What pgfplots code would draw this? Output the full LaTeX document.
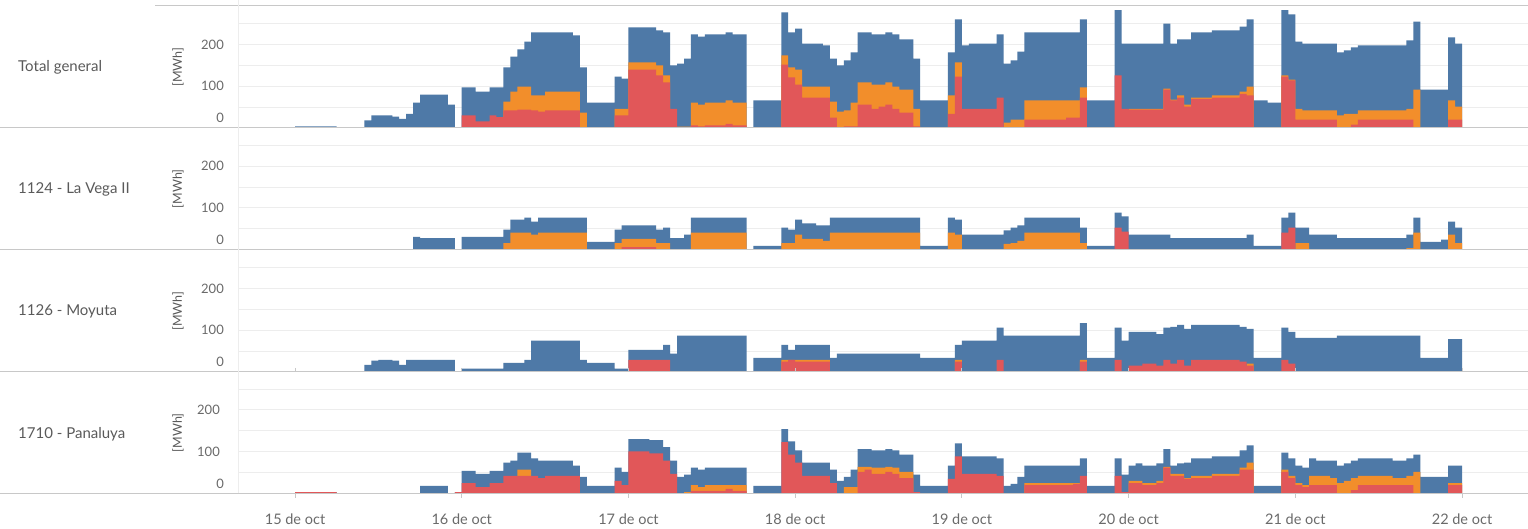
\documentclass[border=0pt]{standalone}
\usepackage{pgfplots}
\pgfplotsset{compat=1.18}
\usepackage{fontspec}
\setmainfont{Lato}
\definecolor{tabblue}{HTML}{4E79A7}
\definecolor{taborange}{HTML}{F28E2B}
\definecolor{tabred}{HTML}{E15759}
\definecolor{gridc}{HTML}{EDEDED}
\definecolor{sepc}{HTML}{C8C8C8}
\definecolor{tickc}{HTML}{6A6A6A}
\definecolor{labc}{HTML}{5A5A5A}
\newcommand{\lbl}{\fontsize{12.5bp}{15bp}\selectfont}
\newcommand{\ytl}{\fontsize{13bp}{15bp}\selectfont}
\newcommand{\xtl}{\fontsize{14.5bp}{17bp}\selectfont}
\newcommand{\rowl}{\fontsize{15bp}{18bp}\selectfont}
\pgfplotsset{
  panel/.style={
    scale only axis, width=1290bp, height=121.5bp, anchor=south west,
    xmin=-8.21, xmax=177.5, ymin=0, ymax=291,
    axis line style={draw=none},
    ytick={50,100,150,200,250}, yticklabels={,100,,200,},
    extra y ticks={24}, extra y tick labels={0},
    extra y tick style={grid=none, major tick length=0pt},
    ymajorgrids, grid style={line width=1bp, color=gridc},
    ytick style={draw=none},
    yticklabel style={anchor=east, inner sep=0pt, xshift=-14bp, font=\ytl, text=tickc},
    ylabel={[MWh]},
    every axis y label/.style={at={(axis description cs:-0.0465,0.5)}, anchor=center, rotate=90, font=\lbl, text=labc},
    xtick=\empty,
    clip=true,
  },
  tot/.style={const plot, fill=tabblue, draw=none},
  ora/.style={const plot, fill=taborange, draw=none},
  red/.style={const plot, fill=tabred, draw=none},
}
\begin{document}
\begin{tikzpicture}
\useasboundingbox (0,0) rectangle (1528bp,529bp);
\fill[white] (0,0) rectangle (1528bp,529bp);

% ---------------- Total general
\begin{axis}[panel, at={(238bp,401bp)}]
\addplot[tot] coordinates {(0,4)(6,0)(10,18)(11,30)(14,27)(15,22)(16,34)(17,61)(18,80)(22,56)(23,2)(24,97)(26,87)(28,97)(30,145)(31,171)(32,188)(33,207)(34,229)(40,222)(41,145)(42,61)(46,123)(47,118)(48,241)(52,234)(53,229)(54,150)(55,154)(56,166)(57,224)(58,219)(59,224)(62,229)(63,224)(65,0)(66,66)(70,277)(71,229)(72,238)(73,202)(76,198)(77,166)(78,150)(79,162)(80,181)(81,229)(83,224)(85,229)(86,224)(87,212)(89,166)(90,66)(94,181)(95,260)(96,198)(97,202)(101,224)(102,154)(103,162)(104,183)(105,229)(113,260)(114,66)(118,282)(119,202)(125,250)(126,202)(127,212)(129,229)(132,234)(136,243)(137,260)(138,66)(140,61)(142,282)(143,272)(144,207)(145,202)(150,181)(151,186)(152,193)(153,198)(160,210)(161,255)(162,92)(166,217)(167,202)(168,0)} \closedcycle;
\addplot[ora] coordinates {(0,0)(30,63)(31,87)(32,99)(34,78)(36,87)(41,37)(42,0)(46,46)(48,157)(52,150)(53,126)(54,0)(55,3)(57,61)(58,56)(59,61)(62,66)(63,61)(65,0)(70,174)(71,145)(72,140)(73,99)(77,63)(78,39)(79,42)(80,61)(81,109)(83,104)(85,109)(86,99)(87,92)(89,46)(90,0)(94,78)(95,157)(96,0)(102,13)(103,20)(105,66)(113,97)(114,0)(120,46)(125,94)(126,68)(127,78)(128,56)(129,73)(132,78)(136,87)(137,99)(138,0)(142,126)(143,116)(144,46)(145,42)(150,30)(151,34)(153,42)(160,46)(161,92)(162,0)(166,66)(167,51)(168,0)} \closedcycle;
\addplot[red] coordinates {(0,0)(24,30)(26,16)(28,30)(29,26)(30,42)(32,44)(34,42)(35,39)(36,42)(41,0)(46,30)(48,140)(52,126)(53,109)(54,46)(55,0)(57,6)(58,4)(59,6)(62,10)(63,6)(65,0)(70,152)(71,121)(72,104)(73,73)(77,25)(78,0)(79,4)(81,56)(83,46)(84,51)(85,56)(86,46)(87,37)(89,4)(90,0)(94,34)(95,123)(96,46)(101,73)(102,0)(105,20)(111,25)(113,73)(114,0)(118,126)(119,46)(120,44)(125,92)(126,66)(127,73)(128,51)(129,70)(132,73)(136,82)(137,78)(138,0)(142,123)(143,114)(144,20)(150,0)(152,8)(153,20)(161,0)(166,20)(168,0)} \closedcycle;
\end{axis}

% ---------------- 1124 - La Vega II
\begin{axis}[panel, at={(238bp,279.3bp)}]
\addplot[tot] coordinates {(0,0)(17,31)(18,28)(23,0)(24,31)(30,48)(31,72)(33,77)(34,67)(35,77)(42,19)(46,48)(47,58)(52,48)(53,53)(54,28)(56,36)(57,77)(65,0)(66,9)(70,53)(71,48)(72,72)(73,63)(75,58)(77,77)(90,9)(94,77)(95,72)(96,36)(102,46)(103,53)(104,58)(105,77)(113,53)(114,9)(118,89)(119,80)(120,36)(126,28)(137,36)(138,9)(142,77)(143,89)(144,53)(146,36)(150,28)(160,36)(161,77)(162,19)(165,24)(166,67)(167,53)(168,0)} \closedcycle;
\addplot[ora] coordinates {(0,0)(30,16)(31,41)(34,36)(35,41)(42,0)(46,16)(47,26)(52,16)(54,0)(57,41)(65,0)(70,16)(72,36)(73,26)(76,21)(77,41)(90,0)(94,41)(95,36)(96,0)(102,14)(103,16)(104,21)(105,41)(113,16)(114,0)(144,16)(146,0)(160,4)(161,41)(162,0)(166,36)(167,16)(168,0)} \closedcycle;
\addplot[red] coordinates {(0,0)(47,6)(52,0)(118,53)(119,43)(120,0)(142,41)(143,53)(144,0)(168,0)} \closedcycle;
\end{axis}

% ---------------- 1126 - Moyuta
\begin{axis}[panel, at={(238bp,157bp)}]
\addplot[tot] coordinates {(0,0)(10,17)(11,27)(12,29)(14,27)(15,17)(16,29)(23,0)(24,8)(30,22)(33,29)(34,75)(41,29)(42,22)(46,8)(48,53)(53,65)(54,44)(55,87)(65,0)(66,34)(70,65)(71,53)(72,65)(77,34)(78,44)(90,34)(95,65)(96,75)(101,106)(102,87)(113,117)(114,34)(118,106)(119,75)(120,96)(124,91)(125,106)(126,108)(127,113)(128,103)(129,113)(136,108)(137,103)(138,34)(142,106)(143,96)(144,82)(150,87)(162,34)(166,79)(168,0)} \closedcycle;
\addplot[ora] coordinates {(0,0)(70,29)(77,0)(95,29)(96,0)(113,29)(114,0)(137,20)(138,0)(168,0)} \closedcycle;
\addplot[red] coordinates {(0,0)(48,29)(54,0)(70,25)(71,29)(72,25)(77,0)(95,25)(96,0)(101,29)(102,0)(113,25)(114,0)(118,29)(119,0)(120,15)(122,20)(124,15)(125,29)(126,20)(127,29)(128,15)(129,29)(136,25)(137,15)(138,0)(142,29)(143,20)(144,0)(168,0)} \closedcycle;
\end{axis}

% ---------------- 1710 - Panaluya
\begin{axis}[panel, at={(238bp,35.5bp)},
  xtick={0,24,48,72,96,120,144,168},
  xticklabels={15 de oct,16 de oct,17 de oct,18 de oct,19 de oct,20 de oct,21 de oct,22 de oct},
  xtick style={draw=sepc, line width=1bp}, tick align=outside, major tick length=4bp,
  xticklabel style={anchor=center, inner sep=0pt, yshift=-22bp, font=\xtl, text=tickc}]
\addplot[tot] coordinates {(0,3)(6,0)(18,18)(22,0)(23,3)(24,54)(26,47)(28,54)(30,74)(31,79)(32,98)(34,84)(35,79)(40,67)(41,40)(42,18)(46,62)(47,52)(48,130)(51,128)(53,111)(54,79)(55,40)(56,45)(57,62)(58,57)(59,62)(65,0)(66,18)(70,154)(71,125)(72,103)(73,74)(77,57)(78,30)(79,40)(80,57)(81,106)(83,103)(85,106)(86,103)(87,93)(89,45)(90,18)(94,67)(95,120)(96,89)(101,84)(102,18)(103,23)(104,40)(105,67)(113,84)(114,18)(118,84)(119,45)(120,67)(121,72)(122,67)(124,72)(125,106)(126,67)(127,72)(128,74)(129,84)(132,89)(136,103)(137,115)(138,18)(142,98)(143,84)(144,67)(145,62)(146,84)(147,79)(150,67)(151,72)(152,79)(153,84)(158,79)(160,84)(161,93)(162,40)(166,67)(168,0)} \closedcycle;
\addplot[ora] coordinates {(0,0)(32,57)(34,0)(56,3)(57,20)(58,15)(59,20)(65,0)(79,15)(81,64)(83,62)(85,64)(86,62)(87,52)(89,0)(105,25)(113,0)(120,30)(122,25)(124,30)(125,64)(126,47)(128,37)(129,42)(132,47)(136,62)(137,74)(138,0)(142,57)(143,42)(144,25)(145,20)(146,42)(149,37)(150,25)(151,30)(152,37)(153,42)(158,37)(160,42)(161,52)(162,0)(166,25)(168,0)} \closedcycle;
\addplot[red] coordinates {(0,3)(6,0)(23,3)(24,25)(26,15)(28,25)(30,42)(35,37)(36,42)(41,0)(46,30)(47,20)(48,101)(51,96)(53,79)(54,47)(55,0)(57,6)(62,11)(63,6)(65,0)(70,123)(71,93)(72,74)(73,42)(77,25)(78,0)(81,52)(82,57)(83,47)(85,52)(86,47)(87,37)(89,3)(90,0)(94,35)(95,89)(96,47)(101,42)(102,0)(105,20)(112,23)(113,42)(114,0)(118,42)(119,3)(120,25)(122,20)(124,25)(125,62)(126,42)(128,35)(129,37)(132,42)(136,57)(138,0)(142,52)(143,37)(144,20)(145,15)(146,20)(150,0)(152,8)(153,20)(161,0)(166,20)(168,0)} \closedcycle;
\end{axis}

% frame lines
\draw[sepc, line width=1bp] (155bp,523.5bp) -- (1528bp,523.5bp);
\draw[sepc, line width=1bp] (0,401bp) -- (1528bp,401bp);
\draw[sepc, line width=1bp] (0,279.3bp) -- (1528bp,279.3bp);
\draw[sepc, line width=1bp] (0,157bp) -- (1528bp,157bp);
\draw[sepc, line width=1bp] (0,35.5bp) -- (1528bp,35.5bp);
\draw[gridc, line width=1bp] (238bp,35.5bp) -- (238bp,529bp);

% row labels
\node[anchor=west, font=\rowl, text=labc, inner sep=0pt] at (18bp,462bp) {Total general};
\node[anchor=west, font=\rowl, text=labc, inner sep=0pt] at (18bp,340bp) {1124 - La Vega II};
\node[anchor=west, font=\rowl, text=labc, inner sep=0pt] at (18bp,218bp) {1126 - Moyuta};
\node[anchor=west, font=\rowl, text=labc, inner sep=0pt] at (18bp,95bp) {1710 - Panaluya};
\end{tikzpicture}
\end{document}
